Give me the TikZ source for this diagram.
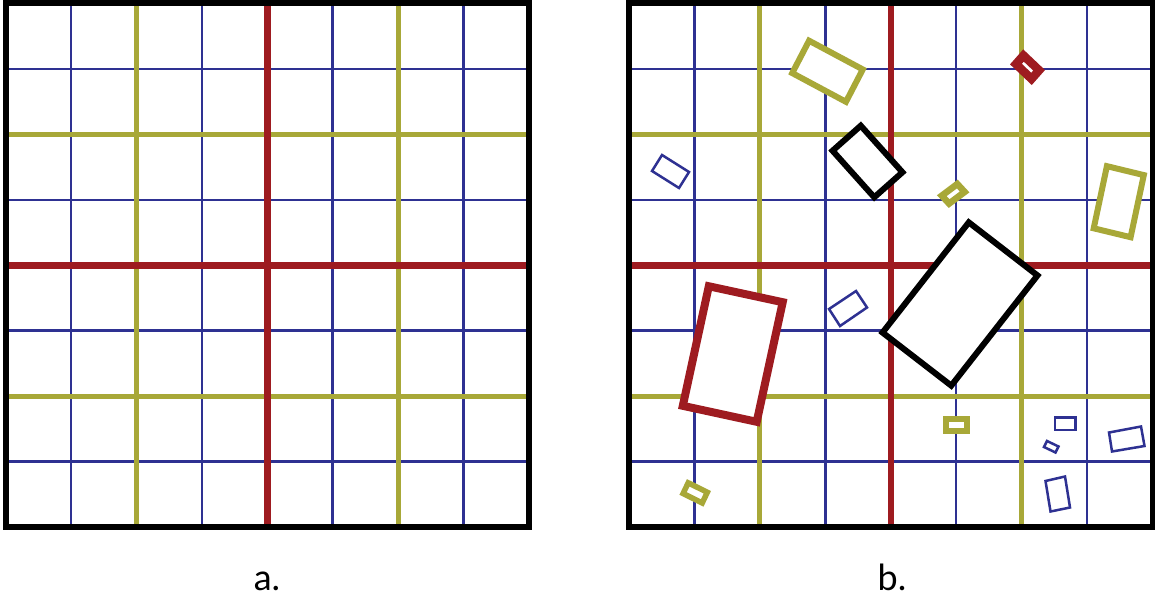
\documentclass[tikz,border=0pt]{standalone}
\usepackage{fontspec}
\setmainfont{Lato}
\definecolor{gblue}{RGB}{46,49,146}
\definecolor{gyellow}{RGB}{168,168,56}
\definecolor{gred}{RGB}{158,27,32}
\tikzset{
  blueline/.style={draw=gblue,line width=2.5pt},
  yellowline/.style={draw=gyellow,line width=5pt},
  redline/.style={draw=gred,line width=6.5pt},
  frame/.style={draw=black,line width=6pt},
  shp/.style={fill=white,line join=miter},
  lbl/.style={anchor=base,font=\fontsize{36}{40}\selectfont,inner sep=0pt}
}
\newcommand\gridpanel[1]{%
  \foreach \k in {1,3,5,7}{
    \draw[blueline] (#1+\k*65.44,3.5) -- (#1+\k*65.44,527);
    \draw[blueline] (#1,3.5+\k*65.44) -- (#1+523.5,3.5+\k*65.44);
  }
  \foreach \k in {2,6}{
    \draw[yellowline] (#1+\k*65.44,3.5) -- (#1+\k*65.44,527);
    \draw[yellowline] (#1,3.5+\k*65.44) -- (#1+523.5,3.5+\k*65.44);
  }
  \draw[redline] (#1+4*65.44,3.5) -- (#1+4*65.44,527);
  \draw[redline] (#1,3.5+4*65.44) -- (#1+523.5,3.5+4*65.44);
  \draw[frame] (#1,3.5) rectangle (#1+523.5,527);
}
\begin{document}
\begin{tikzpicture}[x=1pt,y=-1pt]
\useasboundingbox (0,0) rectangle (1155,602);
\fill[white] (0,0) rectangle (1155,602);
\gridpanel{5.5}
\gridpanel{629}
% shapes in panel b
\draw[shp,draw=gyellow,line width=6pt] (809.05,40.69) -- (862.77,69.43) -- (845.95,101.81) -- (792.23,73.07) -- cycle;
\draw[shp,draw=black,line width=6pt] (860.76,125.7) -- (902.44,172.26) -- (874.24,197.3) -- (832.56,150.74) -- cycle;
\draw[shp,draw=gblue,line width=2.5pt] (662,155) -- (689,172) -- (679,188) -- (652,171) -- cycle;
\draw[shp,draw=gred,line width=8.5pt] (1023.5,55.5) -- (1039.1,70.3) -- (1031.5,78.9) -- (1015.9,64.1) -- cycle;
\draw[shp,draw=gyellow,line width=6.5pt] (957.31,184.0) -- (964.61,191.92) -- (949.09,203.6) -- (941.79,195.68) -- cycle;
\draw[shp,draw=gyellow,line width=6pt] (1106.9,166.15) -- (1143.8,175.1) -- (1130.6,237.2) -- (1093.7,228.3) -- cycle;
\draw[shp,draw=black,line width=6pt] (968.77,222.38) -- (1037.47,275.44) -- (951.23,385.62) -- (882.53,332.56) -- cycle;
\draw[shp,draw=gred,line width=8pt] (708.8,286.25) -- (782.7,302.2) -- (756.7,421.8) -- (682.8,405.8) -- cycle;
\draw[shp,draw=gblue,line width=2.5pt] (856,291) -- (867,307.5) -- (840,326) -- (829,309) -- cycle;
\draw[shp,draw=gyellow,line width=5.5pt] (688.2,482.8) -- (707.3,492.3) -- (702.2,503.0) -- (683.1,493.5) -- cycle;
\draw[shp,draw=gyellow,line width=6pt] (946.3,418.7) rectangle (967,431);
\draw[shp,draw=gblue,line width=2.5pt] (1055,417.5) rectangle (1075.5,430);
\draw[shp,draw=gblue,line width=2.5pt] (1047,441) -- (1058.5,446.5) -- (1055.5,452.5) -- (1044,447) -- cycle;
\draw[shp,draw=gblue,line width=2.5pt] (1045.5,481) -- (1065,476.5) -- (1070,507.5) -- (1050.5,511.5) -- cycle;
\draw[shp,draw=gblue,line width=2.5pt] (1109,432.5) -- (1141,426.5) -- (1144.5,446) -- (1112,451.5) -- cycle;
% labels
\node[lbl] (la) at (267,590) {a.};
\node[lbl] (lb) at (892,590) {b.};
\end{tikzpicture}
\end{document}
